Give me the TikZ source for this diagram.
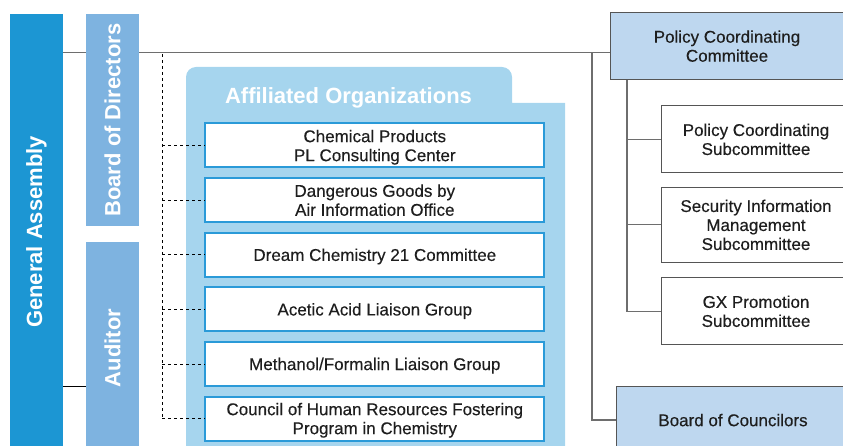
\documentclass[tikz,border=0pt]{standalone}
\usepackage{fontspec}
\setmainfont{Liberation Sans}
\newfontfamily\boxfont[FakeBold=0.3]{Liberation Sans}
\definecolor{gablue}{HTML}{1C96D3}
\definecolor{bodblue}{HTML}{7EB3E0}
\definecolor{panelblue}{HTML}{A6D5EE}
\definecolor{boxborder}{HTML}{2A9AD8}
\definecolor{commfill}{HTML}{BED7EF}
\definecolor{linegray}{HTML}{6E6E6E}
\definecolor{boxgray}{HTML}{555555}
\definecolor{txt}{HTML}{1E1E1E}
\begin{document}
\begin{tikzpicture}[x=1pt,y=-1pt,
  bar/.style={inner sep=0pt, minimum width=53pt},
  vlabel/.style={rotate=90, text=white, font=\fontsize{22}{26}\selectfont\bfseries, inner sep=0pt},
  boxtext/.style={inner sep=0pt, align=center, text=txt, text depth=0pt, font=\boxfont\fontsize{17}{19}\selectfont},
  affbox/.style={boxtext, draw=boxborder, line width=2pt, fill=white, minimum width=339pt, minimum height=44pt},
  commbox/.style={boxtext, draw=boxgray, line width=0.9pt, fill=commfill},
  subbox/.style={boxtext, draw=boxgray, line width=0.9pt, fill=white},
  conn/.style={draw=linegray, line width=1.4pt},
  dconn/.style={draw=black, line width=0.8pt, dash pattern=on 3pt off 3pt}
]
\useasboundingbox (0,0) rectangle (843,446);
\clip (0,0) rectangle (843,446);

% left bars
\node[bar, fill=gablue, minimum height=436pt] (ga) at (36.5,232) {};
\node[vlabel] at (ga.center) {General Assembly};
\node[bar, fill=bodblue, minimum height=212pt] (bod) at (112.5,120) {};
\node[vlabel] at (bod.center) {Board of Directors};
\node[bar, fill=bodblue, minimum height=212pt] (aud) at (112.5,348) {};
\node[vlabel] at (aud.center) {Auditor};

% affiliated panel
\fill[panelblue] (186,460) [rounded corners=10pt] -- (186,67) -- (512,67) [sharp corners] -- (512,103) -- (565,103) -- (565,460) -- cycle;
\node[text=white, font=\fontsize{22}{26}\selectfont\bfseries, inner sep=0pt, text depth=0pt] (afftitle) at (348.5,96) {Affiliated Organizations};

\node[affbox] (b1) at (374.8,145.5) {Chemical Products\\PL Consulting Center};
\node[affbox] (b2) at (374.8,200.1) {Dangerous Goods by\\Air Information Office};
\node[affbox] (b3) at (374.8,254.7) {Dream Chemistry 21 Committee};
\node[affbox] (b4) at (374.8,309.3) {Acetic Acid Liaison Group};
\node[affbox] (b5) at (374.8,363.9) {Methanol/Formalin Liaison Group};
\node[affbox] (b6) at (374.8,418.5) {Council of Human Resources Fostering\\Program in Chemistry};

% right side
\node[commbox, minimum width=234pt, minimum height=66.6pt] (pcc) at (727,46) {Policy Coordinating\\Committee};
\node[subbox, minimum width=190pt, minimum height=66.7pt] (s1) at (756,139.3) {Policy Coordinating\\Subcommittee};
\node[subbox, minimum width=190pt, minimum height=75pt] (s2) at (756,224.8) {Security Information\\Management\\Subcommittee};
\node[subbox, minimum width=190pt, minimum height=67pt] (s3) at (756,311.2) {GX Promotion\\Subcommittee};
\node[commbox, minimum width=234pt, minimum height=68pt] (bc) at (733,420) {Board of Councilors};

% connectors
\coordinate (mainy) at (0,52.5);
\draw[conn] (ga.east |- mainy) -- (bod.west |- mainy);
\draw[conn] (bod.east |- mainy) -- (pcc.west |- mainy);
\coordinate (vx) at (592,52.5);
\draw[conn] (vx) |- (bc.west);
\coordinate (px) at (627,0);
\draw[conn] (px |- pcc.south) -- (px |- s3.west) -- (s3.west);
\draw[conn] (px |- s1.west) -- (s1.west);
\draw[conn] (px |- s2.west) -- (s2.west);
\draw[draw=black, line width=1pt] (ga.east |- 0,386.7) -- (aud.west |- 0,386.7);

\coordinate (dtop) at (162,54);
\draw[dconn] (dtop) -- (dtop |- b6.west);
\foreach \b in {b1,b2,b3,b4,b5,b6}{
  \draw[dconn] (dtop |- \b.west) -- (\b.west);
}
\end{tikzpicture}
\end{document}
